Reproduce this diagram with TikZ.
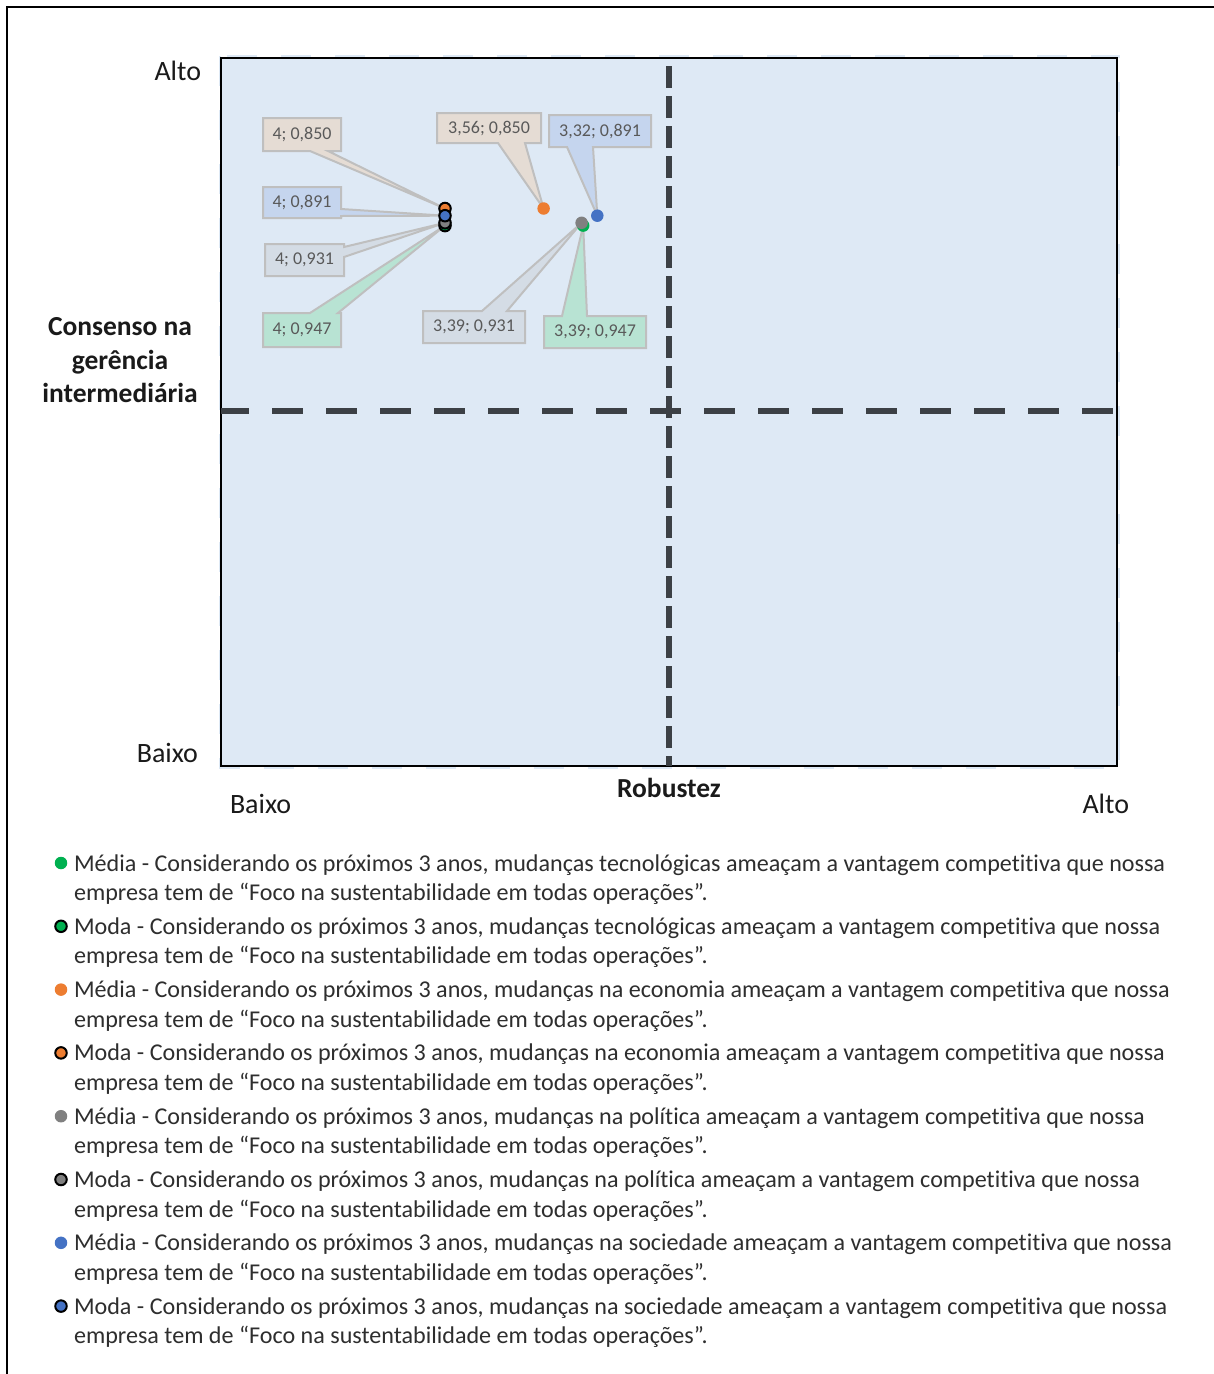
\documentclass[tikz,border=0pt]{standalone}
\usepackage{fontspec}
\setmainfont{Carlito}[Ligatures=NoCommon]
\definecolor{plotbg}{HTML}{DEE9F5}
\definecolor{quadline}{HTML}{3C4045}
\definecolor{cgreen}{HTML}{00B050}
\definecolor{corange}{HTML}{ED7D31}
\definecolor{cgray}{HTML}{808080}
\definecolor{cblue}{HTML}{4472C4}
\definecolor{lblbeige}{HTML}{E5DCD4}
\definecolor{lblblue}{HTML}{C5D5EE}
\definecolor{lblgray}{HTML}{D4DCE5}
\definecolor{lblmint}{HTML}{B8E3D3}
\definecolor{lblborder}{HTML}{BFBFBF}
\definecolor{lbltext}{HTML}{595959}
\definecolor{legtextc}{HTML}{2E2E2E}
\definecolor{axistext}{HTML}{1A1A1A}
\begin{document}
\begin{tikzpicture}[x=1pt,y=-1pt,
  every node/.style={inner sep=0pt,outer sep=0pt},
  axislab/.style={font=\fontsize{28}{33}\selectfont,text=axistext},
  axisbold/.style={font=\fontsize{27.5}{33}\selectfont\bfseries,text=axistext},
  legtext/.style={font=\fontsize{24.1}{29}\selectfont,text=legtextc,anchor=base west},
  lbl/.style={font=\fontsize{18}{20}\selectfont,text=lbltext},
  callout/.style={draw=lblborder,line width=2pt,line join=miter},
  media/.style={circle,minimum size=12.5pt},
  moda/.style={circle,minimum size=11.5pt,draw=black,line width=2pt},
  quad/.style={quadline,line width=6pt}
]
\useasboundingbox (0,0) rectangle (1214,1374);
\fill[white] (0,0) rectangle (1214,1374);

% outer frame
\draw[line width=2.5pt] (7,1374) -- (7,7) -- (1214,7);

% plot area
\draw[plotbg,line width=2pt,dash pattern=on 30pt off 24pt] (219.5,56) rectangle (1119,768);
\draw[fill=plotbg,line width=2pt] (221,58) rectangle (1117,766);

% quadrant dividers
\draw[quad,dash pattern=on 31pt off 23pt,dash phase=3pt] (221,411) -- (1117,411);
\draw[quad,dash pattern=on 22pt off 8pt,dash phase=22pt] (669,58) -- (669,766);

% data points (Robustez reversed 5..1, consenso 0..4 top to bottom)
\coordinate (mo850) at (445,208.5);
\coordinate (mo891) at (445,215.7);
\coordinate (mo931) at (445,222.8);
\coordinate (mo947) at (445,225.6);
\coordinate (me850) at (543.6,208.5);
\coordinate (me891) at (597.3,215.7);
\coordinate (me931) at (581.6,222.8);
\coordinate (me947) at (583.2,225.6);

% data callouts
\draw[callout,fill=lblbeige] (263,118) -- (341,118) -- (341,151) -- (328,151) -- (mo850) -- (310,151) -- (263,151) -- cycle;
\node[lbl] (c1) at (302,134.5) {4; 0,850};
\draw[callout,fill=lblblue] (263,187) -- (341,187) -- (341,209) -- (mo891) -- (341,216) -- (341,218) -- (263,218) -- cycle;
\node[lbl] (c2) at (302,202.5) {4; 0,891};
\draw[callout,fill=lblgray] (265,244) -- (344,244) -- (344,247) -- (mo931) -- (344,257) -- (344,276) -- (265,276) -- cycle;
\node[lbl] (c3) at (304.5,260) {4; 0,931};
\draw[callout,fill=lblmint] (263,313) -- (310,313) -- (mo947) -- (338,313) -- (341,313) -- (341,347) -- (263,347) -- cycle;
\node[lbl] (c4) at (302,330) {4; 0,947};

\draw[callout,fill=lblbeige] (437,113) -- (541,113) -- (541,143) -- (525,143) -- (me850) -- (498,143) -- (437,143) -- cycle;
\node[lbl] (c5) at (489,128) {3,56; 0,850};
\draw[callout,fill=lblblue] (549,115) -- (651,115) -- (651,147) -- (593,147) -- (me891) -- (567,147) -- (549,147) -- cycle;
\node[lbl] (c6) at (600,131) {3,32; 0,891};
\draw[callout,fill=lblgray] (423,311) -- (482,311) -- (me931) -- (507,311) -- (525,311) -- (525,343) -- (423,343) -- cycle;
\node[lbl] (c7) at (474,327) {3,39; 0,931};
\draw[callout,fill=lblmint] (544,316) -- (562,316) -- (me947) -- (587,316) -- (646,316) -- (646,348) -- (544,348) -- cycle;
\node[lbl] (c8) at (595,332) {3,39; 0,947};

% markers, drawn in series order
\node[media,fill=cgreen] (pme947) at (me947) {};
\node[moda,fill=cgreen] (pmo947) at (mo947) {};
\node[media,fill=corange] (pme850) at (me850) {};
\node[moda,fill=corange] (pmo850) at (mo850) {};
\node[media,fill=cgray] (pme931) at (me931) {};
\node[moda,fill=cgray] (pmo931) at (mo931) {};
\node[media,fill=cblue] (pme891) at (me891) {};
\node[moda,fill=cblue] (pmo891) at (mo891) {};

% axis labels
\node[axislab,anchor=base east] (ytop) at (201,80) {Alto};
\node[axislab,anchor=base east] (ybot) at (198,762) {Baixo};
\node[axislab,anchor=base west] (xlow) at (230,813) {Baixo};
\node[axislab,anchor=base east] (xhigh) at (1129,813) {Alto};
\node[axisbold,anchor=base] (xtitle) at (669,797) {Robustez};
\node[axisbold,anchor=base] (ytitle1) at (120,335) {Consenso na};
\node[axisbold,anchor=base] (ytitle2) at (120,369) {gerência};
\node[axisbold,anchor=base] (ytitle3) at (120,402) {intermediária};

% legend
\foreach \lab/\topic/\col/\kind [count=\k from 0] in {
  Média/tecnológicas/cgreen/media,
  Moda/tecnológicas/cgreen/moda,
  Média/na economia/corange/media,
  Moda/na economia/corange/moda,
  Média/na política/cgray/media,
  Moda/na política/cgray/moda,
  Média/na sociedade/cblue/media,
  Moda/na sociedade/cblue/moda}{
  \pgfmathsetmacro{\yb}{871+63.3*\k}
  \node[\kind,fill=\col] (legmk\k) at (61,\yb-8) {};
  \node[legtext] (lega\k) at (74,\yb) {\lab{} - Considerando os próximos 3 anos, mudanças \topic{} ameaçam a vantagem competitiva que nossa};
  \node[legtext] (legb\k) at (74,\yb+29.6) {empresa tem de “Foco na sustentabilidade em todas operações”.};
}
\end{tikzpicture}
\end{document}
